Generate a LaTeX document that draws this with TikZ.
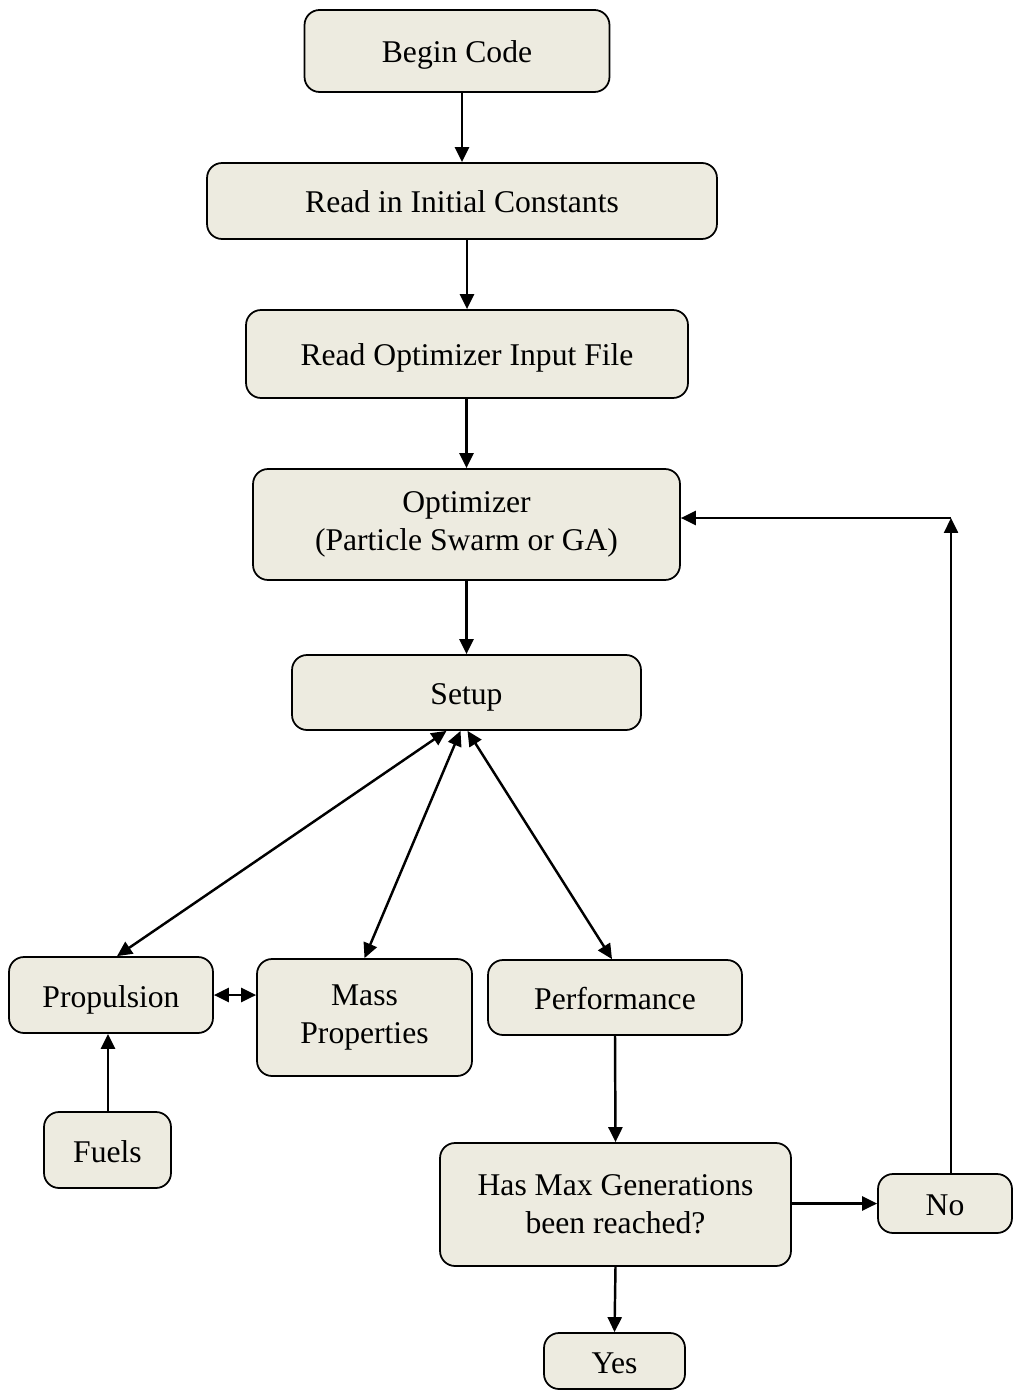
\documentclass[tikz,border=0pt]{standalone}
\usepackage{fontspec}
\setmainfont{Liberation Serif}
\usetikzlibrary{arrows.meta}
\definecolor{boxfill}{HTML}{EDEBE0}
\begin{document}
\begin{tikzpicture}[x=0.02cm,y=-0.02cm,
  box/.style={draw=black, line width=1pt, fill=boxfill, rounded corners=0.3cm,
    inner sep=0pt, align=center, font=\fontsize{18}{21.5}\selectfont},
  one/.style={text height=0.62cm, text depth=0.14cm},
  conn/.style={line width=1.4pt, -{Triangle[length=0.3cm,width=0.28cm]}},
  biconn/.style={line width=1.4pt, {Triangle[length=0.3cm,width=0.28cm]}-{Triangle[length=0.3cm,width=0.28cm]}}]
\useasboundingbox (0,0) rectangle (1012,1391);
\node[box, one, minimum width=6.1cm, minimum height=1.64cm] (begin) at (457,51) {Begin Code};
\node[box, one, minimum width=10.2cm, minimum height=1.52cm] (consts) at (462,201) {Read in Initial Constants};
\node[box, one, minimum width=8.84cm, minimum height=1.76cm] (input) at (467,354) {Read Optimizer Input File};
\node[box, minimum width=8.54cm, minimum height=2.22cm] (opt) at (466.5,524.5) {Optimizer\\(Particle Swarm or GA)};
\node[box, one, minimum width=6.98cm, minimum height=1.5cm] (setup) at (466.5,692.5) {Setup};
\node[box, one, minimum width=4.08cm, minimum height=1.52cm] (prop) at (111,995) {Propulsion};
\node[box, minimum width=4.3cm, minimum height=2.34cm] (mass) at (364.5,1017.5) {Mass\\Properties};
\node[box, one, minimum width=5.08cm, minimum height=1.5cm] (perf) at (615,997.5) {Performance};
\node[box, one, minimum width=2.54cm, minimum height=1.52cm] (fuels) at (107.5,1150) {Fuels};
\node[box, minimum width=7.02cm, minimum height=2.46cm] (hasmax) at (615.5,1204.5) {Has Max Generations\\been reached?};
\node[box, one, minimum width=2.68cm, minimum height=1.18cm] (no) at (945,1203.5) {No};
\node[box, one, minimum width=2.82cm, minimum height=1.12cm] (yes) at (614.5,1361) {Yes};
\coordinate (corner) at (951,518);
\draw[conn] (begin.south -| consts.north) -- (consts.north);
\draw[conn] (consts.south -| input.north) -- (input.north);
\draw[conn] (input.south -| opt.north) -- (opt.north);
\draw[conn] (opt.south) -- (setup.north);
\draw[biconn] ([xshift=-0.4cm]setup.south) -- ([xshift=0.12cm]prop.north);
\draw[biconn] ([xshift=-0.12cm]setup.south) -- (mass.north);
\draw[biconn] ([xshift=0.02cm]setup.south) -- ([xshift=-0.06cm]perf.north);
\draw[biconn] (prop.east) -- (prop.east -| mass.west);
\draw[conn] (fuels.north -| 108,0) -- (prop.south -| 108,0);
\draw[conn] (perf.south) -- (hasmax.north);
\draw[conn] (hasmax.east |- no.west) -- (no.west);
\draw[conn] (no.north -| corner) -- (corner);
\draw[conn] (corner) -- (corner -| opt.east);
\draw[conn] (hasmax.south) -- (yes.north);
\end{tikzpicture}
\end{document}
